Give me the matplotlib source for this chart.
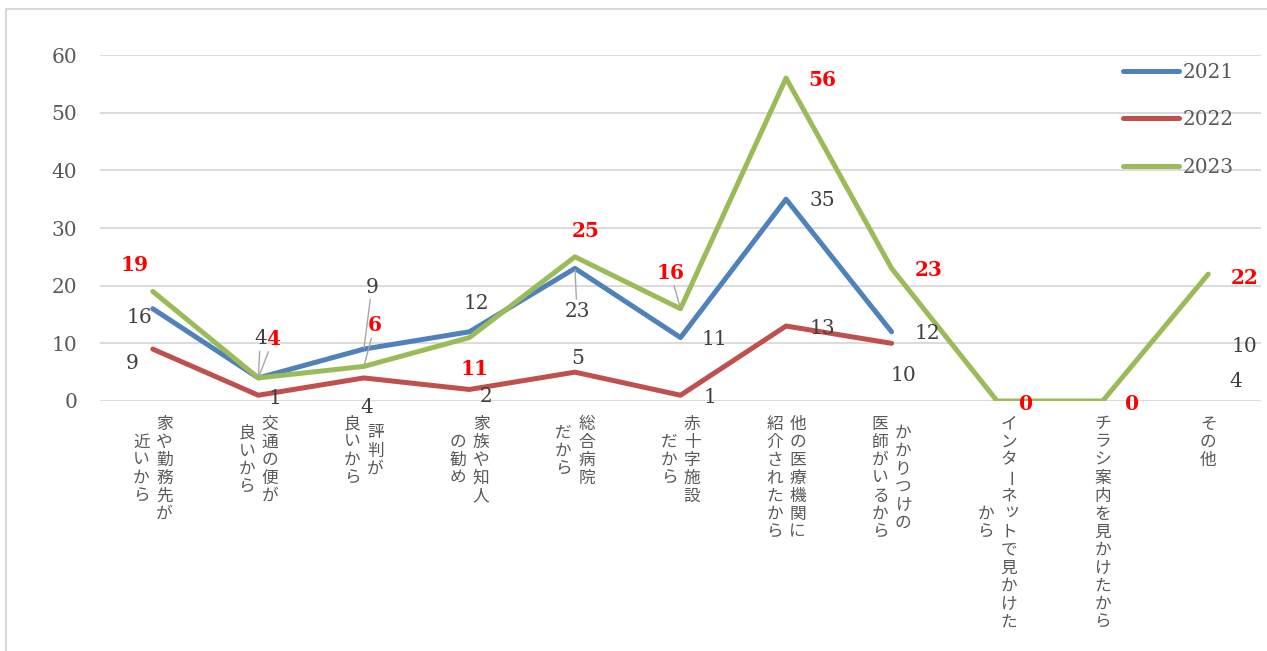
import numpy as np
import matplotlib
matplotlib.use("Agg")
import matplotlib.pyplot as plt
from matplotlib.patches import Rectangle

# --- data ---
categories = [
    "家や勤務先が\n近いから",
    "交通の便が\n良いから",
    "評判が\n良いから",
    "家族や知人\nの勧め",
    "総合病院\nだから",
    "赤十字施設\nだから",
    "他の医療機関に\n紹介されたから",
    "かかりつけの\n医師がいるから",
    "インターネットで見かけた\nから",
    "チラシ案内を見かけたから",
    "その他",
]
years = ["2021", "2022", "2023"]
v2021 = [16, 4, 9, 12, 23, 11, 35, 12, np.nan, np.nan, 10]
v2022 = [9, 1, 4, 2, 5, 1, 13, 10, np.nan, np.nan, 4]
v2023 = [19, 4, 6, 11, 25, 16, 56, 23, 0, 0, 22]
y_ticks = [0, 10, 20, 30, 40, 50, 60]

# --- styling / layout ---
COLOURS = ["#4f81bd", "#c0504d", "#9bbb59"]
GRID = "#d9d9d9"
TEXT = "#595959"
NUM_FONT = "DejaVu Serif"
JP_FONT = ["Noto Sans CJK JP", "DejaVu Sans"]

# data label offsets in pixels from each point (None = no label)
off2021 = [(-13, -9), (2, 39), (8, 62), (7, 28), (2, -43), (34, -2),
           (36, -1), (36, -2), None, None, (36, -3)]
off2022 = [(-21, -14), (17, -3), (3, -30), (17, -7), (3, 14), (29, -2),
           (36, -2), (12, -32), None, None, (28, -4)]
off2023 = [(-18, 26), (15, 39), (11, 41), (5, -31), (11, 26), (-10, 36),
           (36, -2), (37, -2), (29, -3), (29, -3), (36, -4)]
leaders = [{1, 2, 4}, set(), {1, 2, 5}]

W, H = 1267, 651
fig = plt.figure(figsize=(W / 100, H / 100), dpi=100, facecolor="white")
ax = fig.add_axes([100 / W, (H - 401) / H, 1161 / W, 346 / H])

# outer chart frame
fig.patches.append(Rectangle((6 / W, -0.1), 1.2, (H - 9) / H + 0.1,
                             transform=fig.transFigure, fill=False,
                             edgecolor=GRID, linewidth=1.5))

x = np.arange(len(categories))
series = [v2021, v2022, v2023]
for vals, year, col in zip(series, years, COLOURS):
    ax.plot(x, vals, color=col, linewidth=3.6, label=year,
            solid_capstyle="round", solid_joinstyle="round", zorder=3)

ax.set_xlim(-0.5, len(categories) - 0.5)
ax.set_ylim(0, 60)
ax.set_yticks(y_ticks)
ax.set_xticks([])
ax.grid(axis="y", color=GRID, linewidth=1.3)
ax.set_axisbelow(True)
for s in ax.spines.values():
    s.set_visible(False)
ax.tick_params(axis="y", length=0, pad=16.5, labelsize=14.5, labelcolor=TEXT)
for t in ax.get_yticklabels():
    t.set_fontfamily(NUM_FONT)

# --- data labels ---
offsets = [off2021, off2022, off2023]
for si, (vals, offs) in enumerate(zip(series, offsets)):
    red = si == 2
    for i, (v, off) in enumerate(zip(vals, offs)):
        if off is None:
            continue
        arrow = None
        if i in leaders[si]:
            arrow = dict(arrowstyle="-", color="#a6a6a6", lw=1.0,
                         shrinkA=0, shrinkB=1)
        ax.annotate(f"{v:g}", xy=(i, v), xytext=off,
                    textcoords="offset pixels", ha="center", va="center",
                    fontfamily=NUM_FONT, fontsize=14.5,
                    fontweight="bold" if red else "normal",
                    color="#ff0000" if red else "#404040",
                    arrowprops=arrow, zorder=5)

# --- vertical category labels (columns right to left) ---
TOP_PAD = 14
CHAR_STEP = 18
COL_GAP = 23
SMALL_KANA = "ッャュョァィゥェォっゃゅょ"
xtr = ax.get_xaxis_transform()
for i, label in enumerate(categories):
    cols = label.split("\n")
    nmax = max(len(c) for c in cols)
    for j, col in enumerate(cols):
        dx = ((len(cols) - 1) / 2 - j) * COL_GAP
        y0 = -TOP_PAD - (nmax - len(col)) * CHAR_STEP / 2
        for k, ch in enumerate(col):
            cx, cy = dx, y0 - (k + 0.5) * CHAR_STEP
            if ch in SMALL_KANA:
                cx, cy = cx + 3, cy + 3
            ax.annotate(ch, xy=(i, 0), xycoords=xtr, xytext=(cx, cy),
                        textcoords="offset pixels", ha="center", va="center",
                        rotation=-90 if ch == "ー" else 0,
                        fontfamily=JP_FONT, fontsize=12, color=TEXT,
                        annotation_clip=False)

# --- legend ---
leg = ax.legend(loc="upper left", bbox_to_anchor=(1123 / W, (H - 63) / H),
                bbox_transform=fig.transFigure, frameon=False,
                handlelength=2.8, handletextpad=0.15, labelspacing=1.41,
                borderpad=0, borderaxespad=0,
                prop={"family": NUM_FONT, "size": 14.5})
for t in leg.get_texts():
    t.set_color(TEXT)

fig.savefig("out.png", dpi=100, facecolor="white")
